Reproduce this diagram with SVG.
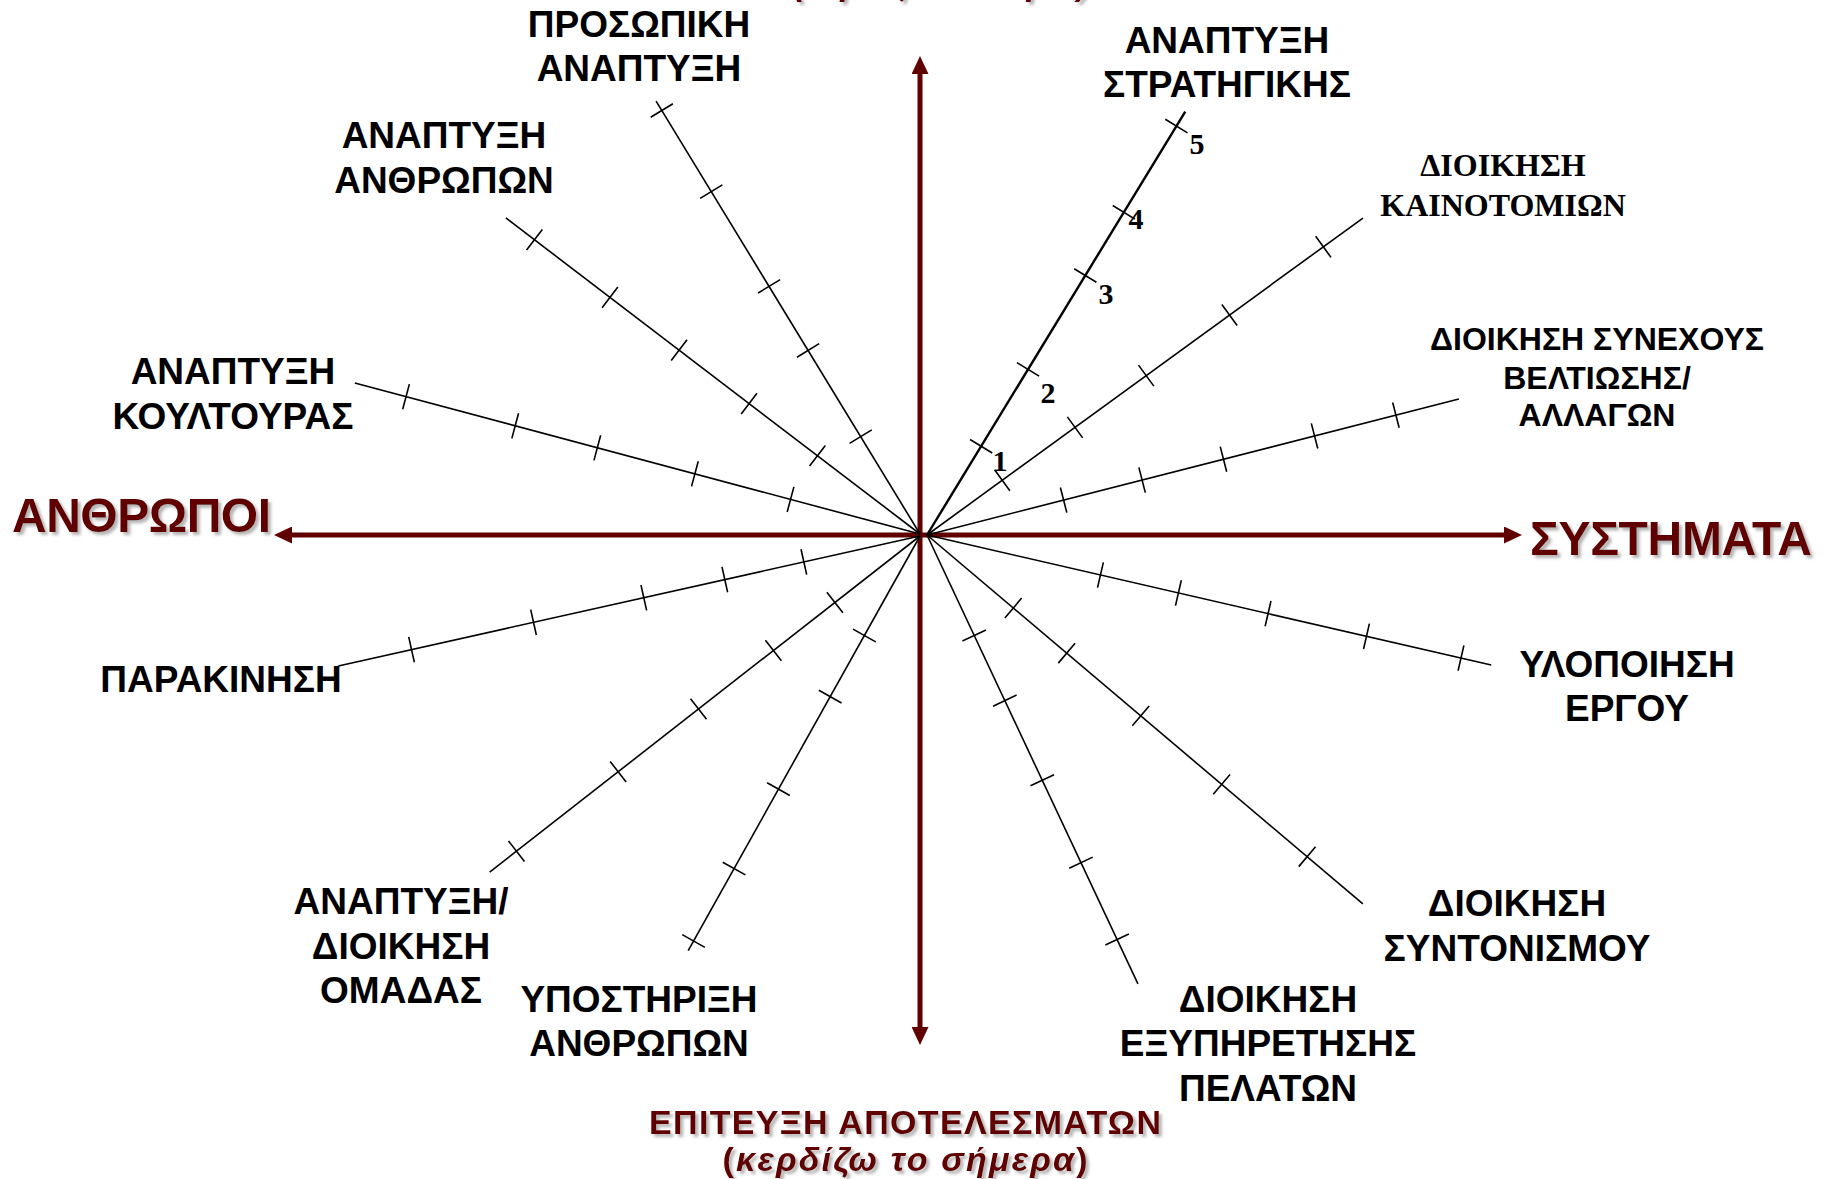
<svg xmlns="http://www.w3.org/2000/svg" width="1826" height="1179" viewBox="0 0 1826 1179">
<style>
.lbl{font-family:"Liberation Sans",Arial,sans-serif;font-weight:bold;font-size:37px;text-anchor:middle;fill:#000}
.sm{font-size:32px}
.ser{font-family:"Liberation Serif","Times New Roman",serif;font-weight:bold;font-size:32px;text-anchor:middle;fill:#000}
.num{font-family:"Liberation Serif","Times New Roman",serif;font-weight:bold;font-size:30px;text-anchor:middle;fill:#000}
.big{font-family:"Liberation Sans",Arial,sans-serif;font-weight:bold;font-size:48px;fill:#600000;filter:url(#sh)}
.red{font-family:"Liberation Sans",Arial,sans-serif;font-weight:bold;font-size:34px;fill:#600000;text-anchor:middle;filter:url(#sh)}
.axis{stroke:#600000;stroke-width:5;fill:none}
.ray line{stroke:#000;stroke-width:1.6}
.ray path{stroke:#000;stroke-width:1.6;fill:none}
</style>
<defs>
<marker id="ah" viewBox="0 0 18 17" refX="0" refY="8.5" markerWidth="18" markerHeight="17" markerUnits="userSpaceOnUse" orient="auto-start-reverse">
<path d="M0,0 L18,8.5 L0,17 Z" fill="#600000"/>
</marker>
<filter id="sh" x="-10%" y="-30%" width="130%" height="170%">
<feDropShadow dx="3" dy="3" stdDeviation="1.5" flood-color="#777" flood-opacity="0.55"/>
</filter>
</defs>
<rect width="1826" height="1179" fill="#fff"/>

<g id="connectors">
<g id="axes">
<line class="axis" x1="920" y1="1027" x2="920" y2="74" marker-start="url(#ah)" marker-end="url(#ah)"/>
<line class="axis" x1="1504" y1="535" x2="292" y2="535" marker-start="url(#ah)" marker-end="url(#ah)"/>
</g>
<g class="ray" transform="translate(920,534) rotate(-121.37)"><line x1="0" y1="0" x2="507" y2="0"/><path d="M114,-13V13M215,-13V13M290,-13V13M401,-13V13M496,-13V13"/></g>
<g class="ray" transform="translate(920,534) rotate(-142.65)"><line x1="0" y1="0" x2="521" y2="0"/><path d="M129,-13V13M215,-13V13M303,-13V13M390,-13V13M485,-13V13"/></g>
<g class="ray" transform="translate(920,534) rotate(-165.04)"><line x1="0" y1="0" x2="585" y2="0"/><path d="M134,-13V13M233,-13V13M334,-13V13M419,-13V13M532,-13V13"/></g>
<g class="ray" transform="translate(920,536) rotate(167.41)"><line x1="0" y1="0" x2="596" y2="0"/><path d="M119,-13V13M200,-13V13M283,-13V13M396,-13V13M521,-13V13"/></g>
<g class="ray" transform="translate(920,536) rotate(142.01)"><line x1="0" y1="0" x2="546" y2="0"/><path d="M108,-13V13M186,-13V13M281,-13V13M383,-13V13M512,-13V13"/></g>
<g class="ray" transform="translate(920,536) rotate(119.21)"><line x1="0" y1="0" x2="475" y2="0"/><path d="M114,-13V13M184,-13V13M290,-13V13M381,-13V13M464,-13V13"/></g>
<g class="ray" transform="translate(927,535) rotate(64.83)"><line x1="0" y1="0" x2="496" y2="0"/><path d="M111,-13V13M183,-13V13M271,-13V13M362,-13V13M447,-13V13"/></g>
<g class="ray" transform="translate(927,535) rotate(40.24)"><line x1="0" y1="0" x2="571" y2="0"/><path d="M113,-13V13M183,-13V13M280,-13V13M386,-13V13M498,-13V13"/></g>
<g class="ray" transform="translate(927,535) rotate(12.98)"><line x1="0" y1="0" x2="579" y2="0"/><path d="M178,-13V13M258,-13V13M350,-13V13M451,-13V13M548,-13V13"/></g>
<g class="ray" transform="translate(927,535) rotate(-14.34)"><line x1="0" y1="0" x2="549" y2="0"/><path d="M141,-13V13M222,-13V13M306,-13V13M400,-13V13M484,-13V13"/></g>
<g class="ray" transform="translate(927,535) rotate(-36.02)"><line x1="0" y1="0" x2="539" y2="0"/><path d="M93,-13V13M183,-13V13M271,-13V13M374,-13V13M490,-13V13"/></g>
<g class="ray" transform="translate(927,535) rotate(-58.62)"><line x1="0" y1="0" x2="496" y2="0" style="stroke-width:2.4"/><path d="M104,-13V13M194,-13V13M304,-13V13M378,-13V13M479,-13V13"/></g>
</g>

<g id="scale">
<text class="num" x="1000" y="471">1</text>
<text class="num" x="1048" y="403">2</text>
<text class="num" x="1106" y="304">3</text>
<text class="num" x="1136" y="229">4</text>
<text class="num" x="1197" y="154">5</text>
</g>

<g id="top-title"><text class="red" font-style="italic" x="941" y="-5" textLength="295">(κερδίζω το αύριο)</text></g>

<g id="n-prosopiki"><text class="lbl" x="639" y="37">ΠΡΟΣΩΠΙΚΗ</text><text class="lbl" x="639" y="81">ΑΝΑΠΤΥΞΗ</text></g>
<g id="n-stratigikis"><text class="lbl" x="1227" y="53">ΑΝΑΠΤΥΞΗ</text><text class="lbl" x="1227" y="97">ΣΤΡΑΤΗΓΙΚΗΣ</text></g>
<g id="n-kainotomion"><text class="ser" x="1503" y="176">ΔΙΟΙΚΗΣΗ</text><text class="ser" x="1503" y="216">ΚΑΙΝΟΤΟΜΙΩΝ</text></g>
<g id="n-synexous"><text class="lbl sm" x="1597" y="350">ΔΙΟΙΚΗΣΗ ΣΥΝΕΧΟΥΣ</text><text class="lbl sm" x="1597" y="389">ΒΕΛΤΙΩΣΗΣ/</text><text class="lbl sm" x="1597" y="426">ΑΛΛΑΓΩΝ</text></g>
<g id="n-anthropon"><text class="lbl" x="444" y="148">ΑΝΑΠΤΥΞΗ</text><text class="lbl" x="444" y="193">ΑΝΘΡΩΠΩΝ</text></g>
<g id="n-koultouras"><text class="lbl" x="233" y="384">ΑΝΑΠΤΥΞΗ</text><text class="lbl" x="233" y="429">ΚΟΥΛΤΟΥΡΑΣ</text></g>
<g id="n-parakinisi"><text class="lbl" x="221" y="692">ΠΑΡΑΚΙΝΗΣΗ</text></g>
<g id="n-omadas"><text class="lbl" x="401" y="914">ΑΝΑΠΤΥΞΗ/</text><text class="lbl" x="401" y="959">ΔΙΟΙΚΗΣΗ</text><text class="lbl" x="401" y="1003">ΟΜΑΔΑΣ</text></g>
<g id="n-ypostirixi"><text class="lbl" x="639" y="1012">ΥΠΟΣΤΗΡΙΞΗ</text><text class="lbl" x="639" y="1056">ΑΝΘΡΩΠΩΝ</text></g>
<g id="n-pelaton"><text class="lbl" x="1268" y="1012">ΔΙΟΙΚΗΣΗ</text><text class="lbl" x="1268" y="1056">ΕΞΥΠΗΡΕΤΗΣΗΣ</text><text class="lbl" x="1268" y="1101">ΠΕΛΑΤΩΝ</text></g>
<g id="n-syntonismou"><text class="lbl" x="1517" y="916">ΔΙΟΙΚΗΣΗ</text><text class="lbl" x="1517" y="961">ΣΥΝΤΟΝΙΣΜΟΥ</text></g>
<g id="n-ergou"><text class="lbl" x="1627" y="677">ΥΛΟΠΟΙΗΣΗ</text><text class="lbl" x="1627" y="721">ΕΡΓΟΥ</text></g>

<g id="n-anthropoi"><text class="big" x="12" y="532" textLength="259">ΑΝΘΡΩΠΟΙ</text></g>
<g id="n-systimata"><text class="big" x="1530" y="555" textLength="282">ΣΥΣΤΗΜΑΤΑ</text></g>
<g id="n-epitefxi"><text class="red" x="905" y="1134" textLength="512">ΕΠΙΤΕΥΞΗ ΑΠΟΤΕΛΕΣΜΑΤΩΝ</text><text class="red" x="905" y="1171" textLength="365">(<tspan font-style="italic">κερδίζω το σήμερα</tspan>)</text></g>
</svg>
